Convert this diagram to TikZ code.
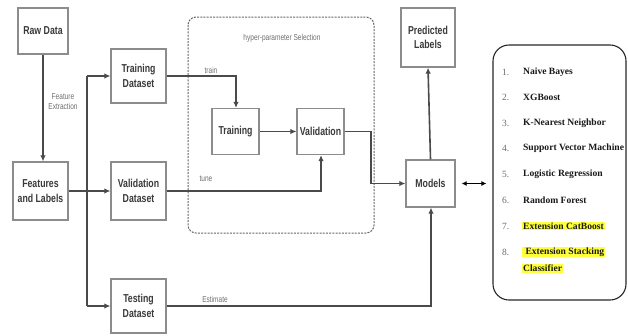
\documentclass[tikz,border=0pt]{standalone}
\usepackage{fontspec}
\setmainfont{Liberation Serif}
\newfontfamily\diag[FakeStretch=0.76]{Liberation Sans}
\usetikzlibrary{arrows.meta}
\definecolor{boxline}{HTML}{8C8C8C}
\definecolor{arrowc}{HTML}{4A4A4A}
\definecolor{txt}{HTML}{3A3A3A}
\definecolor{lbl}{HTML}{6E6E6E}
\definecolor{hl}{HTML}{FFFF3C}
\definecolor{numc}{HTML}{6A6A6A}
\tikzset{
  blk/.style={draw=boxline, line width=1.3pt, fill=white, align=center, inner sep=0pt,
    font=\diag\fontsize{11.5}{14.5}\selectfont\bfseries, text=txt},
  conn/.style={draw=arrowc, line width=1.6pt, -{Latex[length=6pt,width=5.5pt]}},
  plain/.style={draw=arrowc, line width=1.6pt},
  lab/.style={font=\diag\fontsize{8.6}{10}\selectfont, text=lbl, inner sep=0pt, align=center},
  num/.style={font=\fontsize{9.5}{10}\selectfont, text=numc, anchor=west, inner sep=0pt},
  item/.style={font=\fontsize{9.6}{10}\selectfont\bfseries, text=black!90, anchor=west, inner sep=0.9pt},
  hlitem/.style={item, fill=hl}
}
\begin{document}
\begin{tikzpicture}[x=1pt,y=-1pt]
\useasboundingbox (0,0) rectangle (628,335);
% dashed selection region
\draw[draw=arrowc!85, line width=1pt, dash pattern=on 2pt off 1.2pt, rounded corners=8pt] (188,17) rectangle (374,233);
\node[lab] (hyp) at (282,38) {hyper-parameter Selection};
% boxes
\node[blk, minimum width=50pt, minimum height=46pt] (raw) at (43,31) {Raw Data};
\node[blk, minimum width=55pt, minimum height=58pt] (feat) at (40.5,191) {Features\\and Labels};
\node[blk, minimum width=55pt, minimum height=54pt] (trainds) at (138.5,76) {Training\\Dataset};
\node[blk, minimum width=55pt, minimum height=58pt] (valds) at (138.5,191) {Validation\\Dataset};
\node[blk, minimum width=55pt, minimum height=54pt] (testds) at (138.5,306) {Testing\\Dataset};
\node[blk, minimum width=47pt, minimum height=46pt] (training) at (235.5,131.5) {Training};
\node[blk, minimum width=47pt, minimum height=46pt] (validation) at (320.5,131.5) {Validation};
\node[blk, minimum width=49pt, minimum height=47pt] (models) at (430.5,183.5) {Models};
\node[blk, minimum width=54pt, minimum height=59pt] (pred) at (428,37.5) {Predicted\\Labels};
% coordinates
\coordinate (bx) at (87,192);
\coordinate (tr1) at (236,76);
\coordinate (va1) at (371,131.5);
\coordinate (va2) at (371,183.5);
\coordinate (tu1) at (321,191);
\coordinate (es1) at (431,306);
% connectors
\draw[conn] (raw.south) -- (raw.south |- feat.north);
\node[lab] (fe) at (63,102) {Feature\\Extraction};
\draw[conn] (feat.east) -- (valds.west);
\draw[plain] (bx |- trainds.west) -- (bx |- testds.west);
\draw[conn] (bx |- trainds.west) -- (trainds.west);
\draw[conn] (bx |- testds.west) -- (testds.west);
\draw[conn] (trainds.east) -- (tr1) -- (tr1 |- training.north);
\node[lab, anchor=south] (trl) at (211,74) {train};
\draw[conn] (training.east) -- (validation.west);
\draw[conn] (validation.east) -- (va1) -- (va2) -- (models.west);
\draw[conn] (valds.east) -- (tu1) -- (tu1 |- validation.south);
\node[lab, anchor=south] (tul) at (206,182) {tune};
\draw[conn] (testds.east) -- (es1) -- (es1 |- models.south);
\node[lab, anchor=south] (esl) at (215,303) {Estimate};
\draw[conn] (models.north) -- (pred.south);
% algorithm list
\node[draw=black!85, line width=1.1pt, rounded corners=16pt, minimum width=133pt, minimum height=255pt, inner sep=0pt] (list) at (559.5,172.5) {};
\draw[black, line width=1.5pt, {Latex[length=5pt,width=5pt]}-{Latex[length=5pt,width=5pt]}] ([xshift=6pt]models.east) -- ([xshift=-6pt]models.east -| list.west);
\node[num] (n1) at (502,72) {1.};
\node[item] (i1) at (522,72) {Naive Bayes};
\node[num] (n2) at (502,97.5) {2.};
\node[item] (i2) at (522,97.5) {XGBoost};
\node[num] (n3) at (502,123) {3.};
\node[item] (i3) at (522,123) {K-Nearest Neighbor};
\node[num] (n4) at (502,148.5) {4.};
\node[item] (i4) at (522,148.5) {Support Vector Machine};
\node[num] (n5) at (502,174) {5.};
\node[item] (i5) at (522,174) {Logistic Regression};
\node[num] (n6) at (502,200) {6.};
\node[item] (i6) at (522,200) {Random Forest};
\node[num] (n7) at (502,226) {7.};
\node[hlitem] (i7) at (522,226) {Extension CatBoost};
\node[num] (n8) at (502,252) {8.};
\node[hlitem] (i8) at (522,252) {\ Extension Stacking};
\node[hlitem] (i9) at (522,268.5) {Classifier};
\end{tikzpicture}
\end{document}
